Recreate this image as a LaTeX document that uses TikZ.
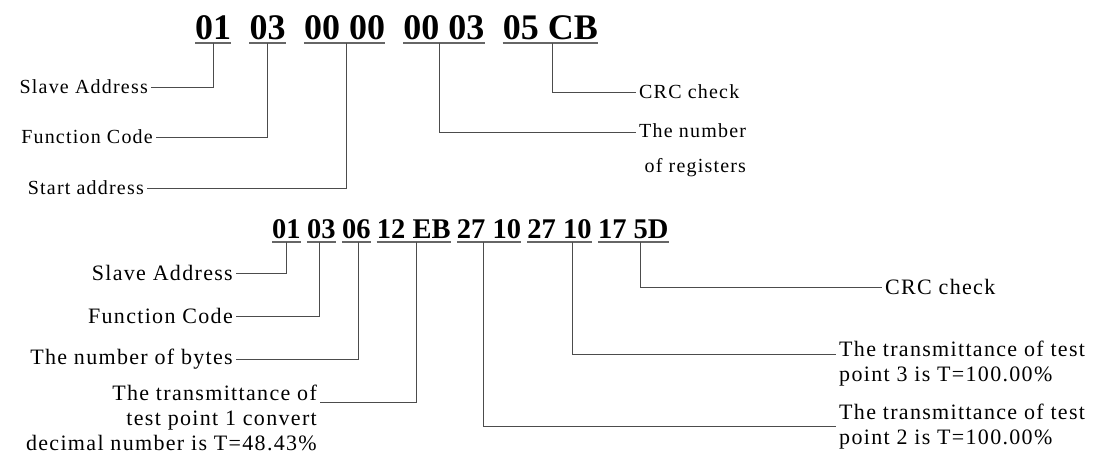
\documentclass[tikz,border=0pt]{standalone}
\usepackage{fontspec}
\setmainfont{Liberation Serif}
\newfontfamily\tagfont[LetterSpace=6]{Liberation Serif}
\usetikzlibrary{positioning}

\begin{document}
\begin{tikzpicture}[x=1pt, y=-1pt, node distance=18pt,
  uline/.style={draw=black!60, line width=1.4pt},
  hexbig/.style={font=\fontsize{36}{36}\selectfont\bfseries, inner xsep=0pt, inner ysep=3pt,
    append after command={(\tikzlastnode.south west) edge[uline] (\tikzlastnode.south east)}},
  hexsmall/.style={hexbig, font=\fontsize{28.5}{28.5}\selectfont\bfseries},
  tag/.style={font=\tagfont\fontsize{20}{35}\selectfont, inner sep=3pt},
  tagB/.style={font=\tagfont\fontsize{22}{25}\selectfont, inner sep=3pt},
  lead/.style={draw=black!70, line width=0.8pt}]
  \useasboundingbox (0,0) rectangle (1113,458);

  % request frame
  \node[hexbig, anchor=south west] (q1) at (195,43) {01};
  \node[hexbig, right=of q1] (q2) {03};
  \node[hexbig, right=of q2] (q3) {00 00};
  \node[hexbig, right=of q3] (q4) {00 03};
  \node[hexbig, right=of q4] (q5) {05 CB};

  \node[tag, anchor=east] (qaddr) at (151,87) {Slave Address};
  \node[tag, anchor=east] (qfunc) at (156,137) {Function Code};
  \node[tag, anchor=east] (qstart) at (147,188) {Start address};
  \node[tag, anchor=west] (qcrc) at (636,92) {CRC check};
  \node[tag, anchor=north west, align=right] (qregs) at (636,120) {The number\\of registers};

  \draw[lead] (q1.south) |- (qaddr.east);
  \draw[lead] (q2.south) |- (qfunc.east);
  \draw[lead] ([xshift=2pt]q3.south) |- (qstart.east);
  \draw[lead] ([xshift=-5pt]q4.south) |- ([yshift=-12pt]qregs.north west);
  \draw[lead] ([xshift=2pt]q5.south) |- (qcrc.west);

  % response frame
  \node[hexsmall, anchor=south west] (r1) at (272,242) {01};
  \node[hexsmall, right=6pt of r1] (r2) {03};
  \node[hexsmall, right=6pt of r2] (r3) {06};
  \node[hexsmall, right=6pt of r3] (r4) {12 EB};
  \node[hexsmall, right=6pt of r4] (r5) {27 10};
  \node[hexsmall, right=6pt of r5] (r6) {27 10};
  \node[hexsmall, right=6pt of r6] (r7) {17 5D};

  \node[tagB, anchor=east] (raddr) at (236,273) {Slave Address};
  \node[tagB, anchor=east] (rfunc) at (236,316) {Function Code};
  \node[tagB, anchor=east] (rbytes) at (236,359) {The number of bytes};
  \node[tagB, anchor=north east, align=right] (rtp1) at (320,382)
    {The transmittance of\\test point 1 convert\\decimal number is T=48.43\%};
  \node[tagB, anchor=west] (rcrc) at (882,287) {CRC check};
  \node[tagB, anchor=north west, align=left] (rtp3) at (836,338)
    {The transmittance of test\\point 3 is T=100.00\%};
  \node[tagB, anchor=north west, align=left] (rtp2) at (836,401)
    {The transmittance of test\\point 2 is T=100.00\%};

  \draw[lead] (r1.south) |- (raddr.east);
  \draw[lead] ([xshift=-2pt]r2.south) |- (rfunc.east);
  \draw[lead] ([xshift=2pt]r3.south) |- (rbytes.east);
  \draw[lead] ([xshift=3pt]r4.south) |- ([yshift=-20pt]rtp1.north east);
  \draw[lead] ([xshift=-6pt]r5.south) |- ([yshift=-25pt]rtp2.north west);
  \draw[lead] ([xshift=13pt]r6.south) |- ([yshift=-16pt]rtp3.north west);
  \draw[lead] ([xshift=7pt]r7.south) |- (rcrc.west);
\end{tikzpicture}
\end{document}
